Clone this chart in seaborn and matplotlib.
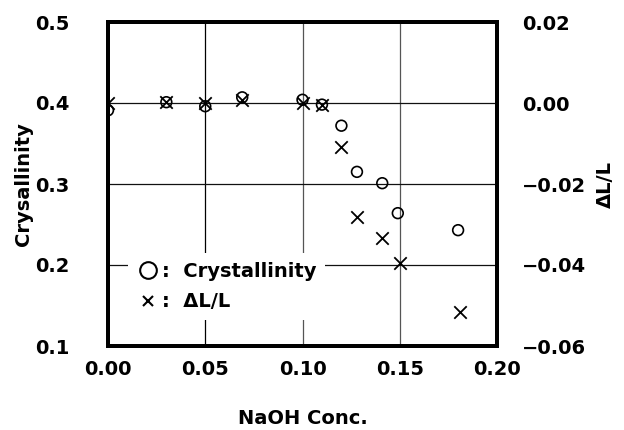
import matplotlib
matplotlib.use("Agg")
import matplotlib.pyplot as plt
from matplotlib.lines import Line2D
import seaborn as sns
import pandas as pd

naoh_cryst = [0.000, 0.030, 0.050, 0.069, 0.100, 0.110, 0.120, 0.128, 0.141, 0.149, 0.180]
crystallinity = [0.391, 0.401, 0.396, 0.407, 0.404, 0.398, 0.372, 0.315, 0.301, 0.264, 0.243]
naoh_dl = [0.000, 0.030, 0.050, 0.069, 0.100, 0.110, 0.120, 0.128, 0.141, 0.150, 0.181]
delta_l = [0.0000, 0.0003, 0.0000, 0.0007, 0.0000, -0.0005, -0.0109, -0.0282, -0.0333, -0.0395, -0.0516]

x_ticks = [0.00, 0.05, 0.10, 0.15, 0.20]
y_ticks = [0.1, 0.2, 0.3, 0.4, 0.5]
y2_ticks = [-0.06, -0.04, -0.02, 0.00, 0.02]

sns.set_theme(style="white")
plt.rcParams['font.family'] = ['DejaVu Sans']
plt.rcParams['font.weight'] = 'bold'
plt.rcParams['text.color'] = 'black'
plt.rcParams['axes.labelcolor'] = 'black'
plt.rcParams['xtick.color'] = 'black'
plt.rcParams['ytick.color'] = 'black'

df1 = pd.DataFrame({"x": naoh_cryst, "y": crystallinity})
df2 = pd.DataFrame({"x": naoh_dl, "y": delta_l})

fig = plt.figure(figsize=(6.24, 4.30), dpi=100)
ax = fig.add_axes([108/624, 1-346/430, (497-108)/624, (346-22)/430])
ax2 = ax.twinx()

ax.set_xlim(0, 0.2)
ax.set_ylim(0.1, 0.5)
ax2.set_ylim(-0.06, 0.02)

# grid
ax.axvline(0.05, color='black', lw=0.9, zorder=0)
for xv in [0.10, 0.15]:
    ax.axvline(xv, color='#555555', lw=0.9, zorder=0)
for yv in y_ticks[1:-1]:
    ax.axhline(yv, color='#111111', lw=0.9, zorder=0)

sns.scatterplot(data=df1, x="x", y="y", ax=ax, marker='o', s=60,
                facecolors='none', edgecolor='black', linewidth=1.2, zorder=5)
sns.scatterplot(data=df2, x="x", y="y", ax=ax2, marker='x', s=80,
                color='black', linewidth=1.3, zorder=5)

ax.set_xticks(x_ticks)
ax.set_xticklabels([f"{v:.2f}" for v in x_ticks])
ax.set_yticks(y_ticks)
ax.set_yticklabels([f"{v:.1f}" for v in y_ticks])
ax2.set_yticks(y2_ticks)
ax2.set_yticklabels([f"{v:.2f}".replace('-', '\u2212') for v in y2_ticks])

for a in (ax, ax2):
    a.tick_params(length=0, labelsize=14, pad=10, colors='black')
    for lbl in a.get_xticklabels() + a.get_yticklabels():
        lbl.set_fontweight('bold')
        lbl.set_color('black')
    for sp in a.spines.values():
        sp.set_linewidth(2.8)
        sp.set_color('black')
ax.tick_params(axis='y', pad=28)
ax2.tick_params(axis='y', pad=18)

ax.set_xlabel("NaOH Conc.", fontsize=14, fontweight='bold', labelpad=22, color='black')
ax.set_ylabel("Crysallinity", fontsize=14, fontweight='bold', labelpad=1, color='black')
ax2.set_ylabel("\u0394L/L", fontsize=14, fontweight='bold', labelpad=7, color='black')

handles = [Line2D([], [], marker='o', ls='none', markerfacecolor='none',
                  markeredgecolor='black', markersize=12, markeredgewidth=1.5),
           Line2D([], [], marker='x', ls='none', color='black',
                  markersize=7, markeredgewidth=1.5)]
leg = ax.legend(handles, [":  Crystallinity", ":  \u0394L/L"],
                loc='upper left', bbox_to_anchor=(20/389, (346-253)/324),
                frameon=True, fontsize=14, handletextpad=0.1, handlelength=1.2,
                borderpad=0.45, labelspacing=0.6, borderaxespad=0)
leg.get_frame().set_facecolor('white')
leg.get_frame().set_edgecolor('none')
leg.get_frame().set_alpha(1)
for t in leg.get_texts():
    t.set_fontweight('bold')
    t.set_color('black')

fig.savefig("out.png", dpi=100, facecolor='white')
